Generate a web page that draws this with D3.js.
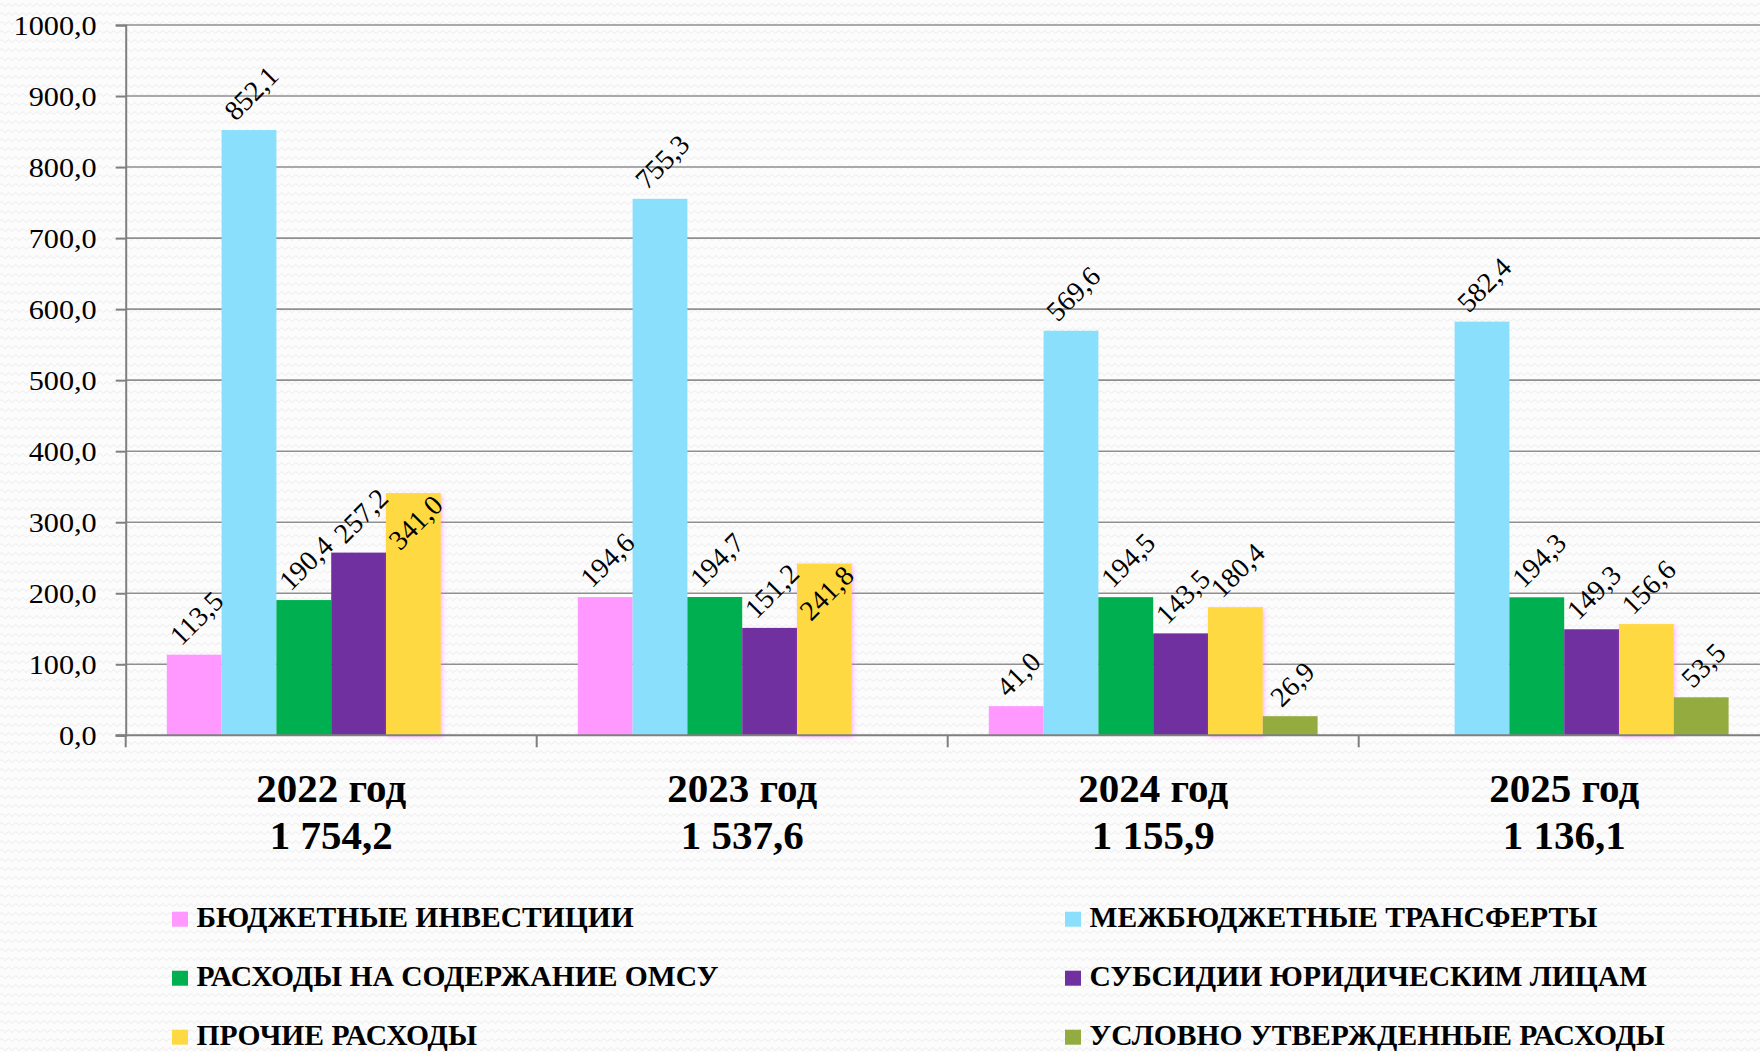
<!DOCTYPE html>
<html>
<head>
<meta charset="utf-8">
<script src="https://cdn.jsdelivr.net/npm/d3@7"></script>
<style>
  html, body { margin: 0; padding: 0; background: #fcfcfc; }
  svg { display: block; }
  text { font-family: "Liberation Serif", "Times New Roman", serif; fill: #000; }
</style>
</head>
<body>
<svg id="chart"></svg>
<script>
const years = ["2022 год", "2023 год", "2024 год", "2025 год"];
const totals = ["1 754,2", "1 537,6", "1 155,9", "1 136,1"];
const seriesNames = [
    "БЮДЖЕТНЫЕ ИНВЕСТИЦИИ",
    "МЕЖБЮДЖЕТНЫЕ ТРАНСФЕРТЫ",
    "РАСХОДЫ НА СОДЕРЖАНИЕ ОМСУ",
    "СУБСИДИИ ЮРИДИЧЕСКИМ ЛИЦАМ",
    "ПРОЧИЕ РАСХОДЫ",
    "УСЛОВНО УТВЕРЖДЕННЫЕ РАСХОДЫ"
];
const seriesColors = ["#ff99ff", "#8adffc", "#00b050", "#7030a0", "#ffd943", "#93ab3f"];

// one array per series, one value per year (null = no bar)
const investments = [113.5, 194.6, 41.0, null];
const transfers   = [852.1, 755.3, 569.6, 582.4];
const omsu        = [190.4, 194.7, 194.5, 194.3];
const subsidies   = [257.2, 151.2, 143.5, 149.3];
const other       = [341.0, 241.8, 180.4, 156.6];
const conditional = [null, null, 26.9, 53.5];
const seriesValues = [investments, transfers, omsu, subsidies, other, conditional];

const yTicks = [0, 100, 200, 300, 400, 500, 600, 700, 800, 900, 1000];

const width = 1760, height = 1052;
const svg = d3.select("#chart").attr("width", width).attr("height", height);

// faint wavy background
const defs = svg.append("defs");
const pat = defs.append("pattern").attr("id", "waves")
    .attr("patternUnits", "userSpaceOnUse").attr("width", 7).attr("height", 9);
pat.append("rect").attr("width", 7).attr("height", 9).attr("fill", "#fcfcfc");
pat.append("path").attr("d", "M0,5 Q1.75,2 3.5,5 T7,5")
    .attr("fill", "none").attr("stroke", "#ececec").attr("stroke-width", 1);

const glow = defs.append("filter").attr("id", "glow")
    .attr("x", "-20%").attr("y", "-5%").attr("width", "140%").attr("height", "115%");
glow.append("feDropShadow").attr("dx", 1.5).attr("dy", 2).attr("stdDeviation", 2)
    .attr("flood-color", "#ff66ff").attr("flood-opacity", 0.45);

svg.append("rect").attr("width", width).attr("height", height).attr("fill", "url(#waves)");

const x0 = d3.scaleBand().domain(years).range([125.7, 125.7 + 411 * 4]).padding(0);
const x1 = d3.scaleBand().domain(d3.range(seriesNames.length))
    .range([0, x0.bandwidth()]).paddingInner(0).paddingOuter(0.75);
const y = d3.scaleLinear().domain([0, 1000]).range([735.3, 25]);

const fmt = v => d3.format(".1f")(v).replace(".", ",");

// gridlines
svg.append("g").selectAll("line").data(yTicks.filter(d => d > 0)).join("line")
    .attr("x1", x0.range()[0]).attr("x2", width)
    .attr("y1", d => y(d)).attr("y2", d => y(d))
    .attr("stroke", "#8f8f8f").attr("stroke-width", 1.6);

// y axis
const yAxis = svg.append("g").attr("transform", `translate(${x0.range()[0]},0)`)
    .call(d3.axisLeft(y).tickValues(yTicks).tickSize(10).tickPadding(20).tickFormat(fmt));
yAxis.select(".domain").attr("stroke", "#7f7f7f").attr("stroke-width", 2);
yAxis.selectAll(".tick line").attr("stroke", "#7f7f7f").attr("stroke-width", 2);
yAxis.selectAll(".tick text")
    .attr("font-family", "Liberation Serif, serif").attr("font-size", 28).attr("fill", "#000")
    .attr("x", null).attr("dy", "0.34em")
    .attr("transform", "translate(-29,0) scale(1.08,1)");

// bars
const groups = svg.append("g").selectAll("g").data(years).join("g")
    .attr("transform", d => `translate(${x0(d)},0)`);

const cells = (yr, i) => seriesValues.map((vals, s) => ({ year: yr, s: s, v: vals[i] }))
    .filter(c => c.v != null);

groups.selectAll("rect").data((yr, i) => cells(yr, i)).join("rect")
    .attr("x", d => x1(d.s)).attr("width", x1.bandwidth())
    .attr("y", d => y(d.v)).attr("height", d => y(0) - y(d.v))
    .attr("fill", d => seriesColors[d.s])
    .attr("filter", d => d.s === 4 ? "url(#glow)" : null);

// x axis baseline and category ticks
svg.append("line").attr("x1", x0.range()[0] - 10).attr("x2", width)
    .attr("y1", y(0)).attr("y2", y(0)).attr("stroke", "#7f7f7f").attr("stroke-width", 2);
svg.append("g").selectAll("line").data(years).join("line")
    .attr("x1", d => x0(d)).attr("x2", d => x0(d))
    .attr("y1", y(0)).attr("y2", y(0) + 12)
    .attr("stroke", "#7f7f7f").attr("stroke-width", 2);

// data labels, rotated -45deg, outside end (inside end where the label was pushed down)
const insideEnd = new Set(["2022 год|4", "2023 год|4"]);
const labelSize = 28;
groups.selectAll("text.val").data((yr, i) => cells(yr, i)).join("text")
    .attr("class", "val")
    .attr("font-size", labelSize)
    .attr("text-anchor", "middle")
    .attr("dy", "0.35em")
    .text(d => fmt(d.v))
    .attr("transform", function(d) {
        const w = this.getComputedTextLength();
        const half = (w + labelSize * 1.1) / (2 * Math.SQRT2);
        const cx = x1(d.s) + x1.bandwidth() / 2 + 2;
        const cy = insideEnd.has(d.year + "|" + d.s) ? y(d.v) + half - 4 : y(d.v) - half - 4;
        return `translate(${cx},${cy}) rotate(-45)`;
    });

// category labels with totals
const cat = svg.append("g").selectAll("g").data(years).join("g")
    .attr("transform", d => `translate(${x0(d) + x0.bandwidth() / 2},0)`);
cat.append("text").attr("y", 801.7).attr("text-anchor", "middle")
    .attr("font-size", 41).attr("font-weight", "bold").text(d => d);
cat.append("text").attr("y", 849.3).attr("text-anchor", "middle")
    .attr("font-size", 41).attr("font-weight", "bold").text((d, i) => totals[i]);

// legend: two columns, three rows
const legend = svg.append("g").selectAll("g").data(seriesNames).join("g")
    .attr("transform", (d, i) => `translate(${i % 2 === 0 ? 172 : 1065},${926.7 + Math.floor(i / 2) * 59})`);
legend.append("rect").attr("x", 0).attr("y", -15).attr("width", 16).attr("height", 15)
    .attr("fill", (d, i) => seriesColors[i]);
legend.append("text").attr("x", 0).attr("y", 0)
    .attr("font-size", 29).attr("font-weight", "bold")
    .attr("transform", "translate(24.5,0) scale(1.02,1)")
    .text(d => d);
</script>
</body>
</html>
